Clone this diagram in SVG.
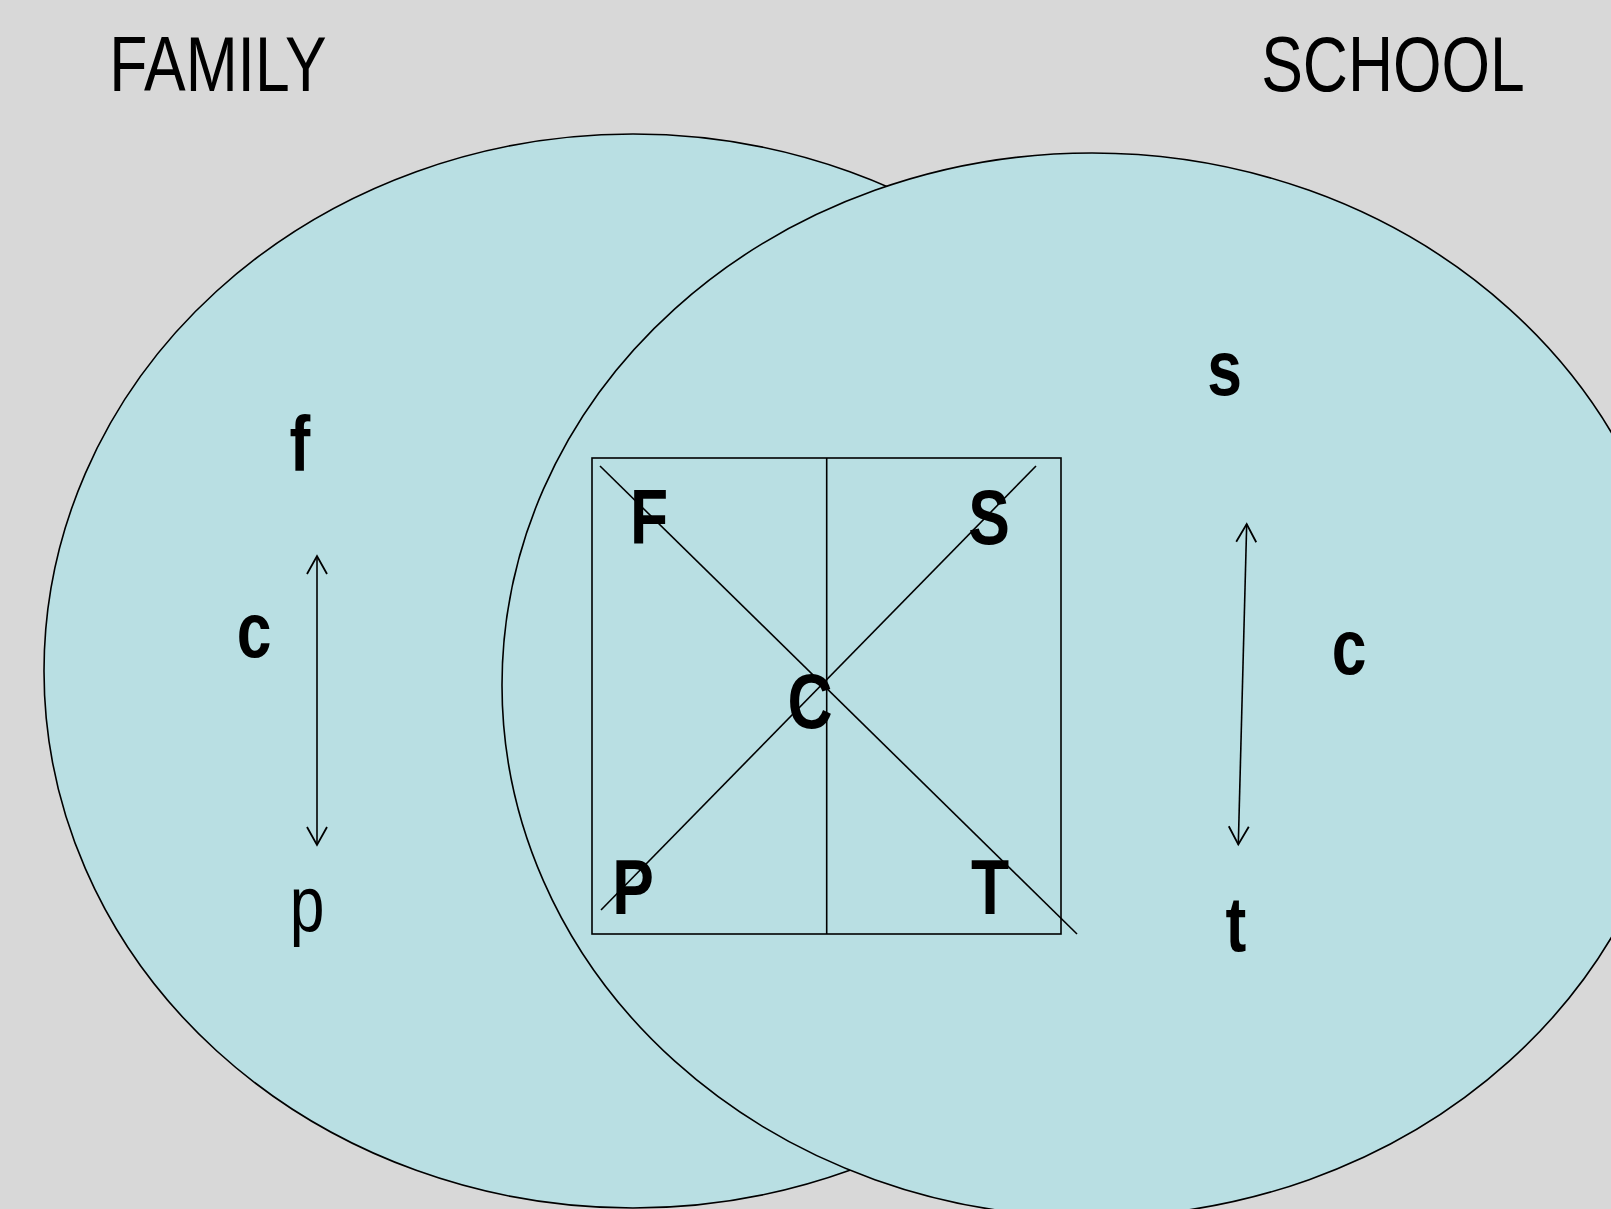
<svg xmlns="http://www.w3.org/2000/svg" width="1611" height="1209" viewBox="0 0 1611 1209">
<style>
  .bg { fill: #D8D8D8; }
  .circle { fill: #B9DFE3; stroke: #000; stroke-width: 1.6; }
  .ln { stroke: #000; stroke-width: 1.6; fill: none; }
  .title { font-family: "Liberation Sans", Arial, sans-serif; font-size: 78px; fill: #000; text-anchor: middle; }
  .lb { font-family: "Liberation Sans", Arial, sans-serif; font-size: 78px; font-weight: bold; fill: #000; text-anchor: middle; }
  .lr { font-family: "Liberation Sans", Arial, sans-serif; font-size: 78px; fill: #000; text-anchor: middle; }
</style>
<defs>
  <marker id="open" markerUnits="userSpaceOnUse" markerWidth="40" markerHeight="40" viewBox="-20 -20 40 40" refX="0" refY="0" orient="auto-start-reverse">
    <path d="M-18,-10 L0,0 L-18,10" fill="none" stroke="#000" stroke-width="1.8"/>
  </marker>
</defs>
<rect class="bg" x="0" y="0" width="1611" height="1209"/>

<g id="family-circle">
  <ellipse class="circle" cx="633" cy="671" rx="589" ry="537"/>
</g>
<g id="school-circle">
  <ellipse class="circle" cx="1092" cy="685" rx="590" ry="532"/>
</g>

<g id="titles">
  <text class="title" transform="translate(218 90.7) scale(0.8 1)">FAMILY</text>
  <text class="title" transform="translate(1393 90.7) scale(0.8 1)">SCHOOL</text>
</g>

<g id="center-box">
  <rect class="ln" x="592" y="458" width="469" height="476"/>
</g>

<g id="connectors">
  <line class="ln" x1="826.7" y1="458" x2="826.7" y2="934"/>
  <line class="ln" x1="600" y1="466" x2="1077" y2="934"/>
  <line class="ln" x1="1036" y1="466" x2="601" y2="910"/>
  <line class="ln" x1="317" y1="556" x2="317" y2="845" marker-start="url(#open)" marker-end="url(#open)"/>
  <line class="ln" x1="1246.7" y1="524" x2="1238.3" y2="844.5" marker-start="url(#open)" marker-end="url(#open)"/>
</g>

<g id="family-labels">
  <text class="lb" transform="translate(300 471) scale(0.8 1)">f</text>
  <text class="lb" transform="translate(254 657) scale(0.8 1)">c</text>
  <text class="lr" transform="translate(307 931) scale(0.8 1)">p</text>
</g>

<g id="school-labels">
  <text class="lb" transform="translate(1224.5 395) scale(0.8 1)">s</text>
  <text class="lb" transform="translate(1349 674) scale(0.8 1)">c</text>
  <text class="lb" transform="translate(1236 951) scale(0.8 1)">t</text>
</g>

<g id="box-labels">
  <text class="lb" transform="translate(649 544) scale(0.8 1)">F</text>
  <text class="lb" transform="translate(989 544) scale(0.8 1)">S</text>
  <text class="lb" transform="translate(810 728) scale(0.8 1)">C</text>
  <text class="lb" transform="translate(633 914) scale(0.8 1)">P</text>
  <text class="lb" transform="translate(990 914) scale(0.8 1)">T</text>
</g>
</svg>
